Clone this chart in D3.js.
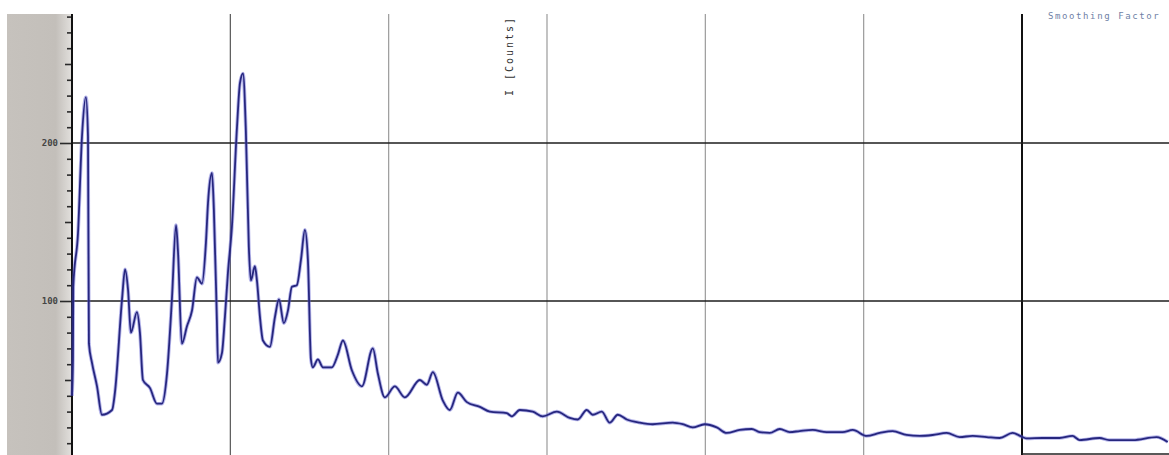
<!DOCTYPE html>
<html>
<head>
<meta charset="utf-8">
<script src="https://cdn.jsdelivr.net/npm/d3@7"></script>
<style>
  html, body { margin: 0; padding: 0; background: #ffffff; }
  svg { display: block; }
</style>
</head>
<body>
<svg id="chart" width="1169" height="455"></svg>
<script>
// ---- data ----
const twoTheta = [
  10.00, 10.06, 10.08, 10.38, 10.63, 10.88, 11.01, 11.07, 11.26, 11.58, 11.89,
  12.53, 12.71, 13.16, 13.35, 13.54, 13.72, 14.10, 14.29, 14.48, 14.92, 15.37,
  15.68, 16.00, 16.31, 16.57, 16.69, 16.94, 17.26, 17.58, 17.89, 18.21, 18.46,
  18.59, 18.84, 18.96, 19.15, 19.22, 19.47, 19.66, 19.85, 20.10, 20.42, 20.61,
  20.80, 20.98, 21.17, 21.30, 21.55, 21.68, 21.87, 22.06, 22.50, 22.82, 23.07,
  23.38, 23.64, 23.89, 24.20, 24.46, 24.71, 24.90, 25.09, 25.21, 25.53, 25.85,
  26.41, 26.79, 27.11, 27.68, 28.31, 29.00, 29.32, 29.76, 30.39, 31.02, 31.97,
  32.41, 32.79, 33.42, 33.86, 34.37, 34.94, 35.76, 36.39, 37.46, 37.78, 38.28,
  39.10, 39.73, 40.62, 41.44, 41.94, 42.51, 42.89, 43.46, 43.96, 44.47, 45.04,
  45.86, 46.68, 47.94, 48.57, 49.20, 49.96, 50.72, 51.35, 52.17, 52.93, 53.43,
  54.07, 54.70, 55.33, 55.96, 56.78, 57.66, 58.67, 59.31, 60.19, 61.01, 61.83,
  62.71, 63.54, 64.36, 65.24, 66.06, 66.88, 67.77, 68.59, 69.41, 70.00, 70.29,
  71.30, 72.37, 73.19, 73.64, 74.90, 75.50, 77.00, 78.50, 79.20
];
const counts = [
  40, 63, 109, 143, 204, 229, 204, 73, 61, 46, 28,
  31, 42, 101, 120, 107, 80, 93, 80, 50, 45, 35,
  35, 54, 101, 148, 132, 73, 84, 94, 115, 111, 137,
  162, 181, 158, 88, 61, 67, 90, 118, 147, 210, 238,
  244, 208, 134, 113, 122, 113, 90, 75, 71, 90, 101,
  86, 94, 109, 110, 126, 145, 126, 63, 58, 63, 58,
  58, 66, 75, 56, 46, 70, 54, 39, 46, 39, 50,
  47, 55, 37, 31, 42, 36, 33, 30, 29, 27, 31,
  30, 27, 30, 26, 25, 31, 28, 30, 23, 28, 25,
  23, 22, 23, 22, 20, 22, 20, 16.5, 18.4, 19, 17,
  16.5, 19, 17, 17.7, 18.4, 17, 17, 18.4, 14.6, 16.5, 17.7,
  15.2, 14.6, 15.2, 16.5, 13.9, 14.6, 13.9, 13.3, 16.5, 14, 13,
  13.3, 13.3, 14.6, 12, 13.3, 12, 12, 13.9, 10.8
];
const yTickLabels = [100, 200];
const xGridValues = [20, 30, 40, 50, 60, 70];
const yGridValues = [100, 200];
const yAxisTitle = "I [Counts]";
const cornerNote = "Smoothing Factor";

// ---- layout ----
const W = 1169, H = 455;
const plotLeft = 72, plotTop = 14, plotBottom = 455;
const svg = d3.select("#chart");

const x = d3.scaleLinear().domain([10, 70]).range([plotLeft, 1022]);
const y = d3.scaleLinear().domain([0, 200]).range([459, 143]);

// background pieces
svg.append("rect").attr("x", 0).attr("y", 0).attr("width", W).attr("height", H).attr("fill", "#ffffff");
const grad = svg.append("defs").append("linearGradient").attr("id", "gband")
  .attr("x1", "0").attr("x2", "1").attr("y1", "0").attr("y2", "0");
grad.append("stop").attr("offset", "0").attr("stop-color", "#c6c2bd");
grad.append("stop").attr("offset", "0.75").attr("stop-color", "#c3bfba");
grad.append("stop").attr("offset", "1").attr("stop-color", "#e2e0dd");
svg.append("rect").attr("x", 7).attr("y", plotTop).attr("width", plotLeft - 7).attr("height", H - plotTop)
  .attr("fill", "url(#gband)");

// vertical grid lines
svg.append("g").selectAll("line").data(xGridValues).join("line")
  .attr("x1", d => x(d)).attr("x2", d => x(d))
  .attr("y1", plotTop).attr("y2", plotBottom)
  .attr("stroke", d => d === 70 ? "#111111" : (d === 20 ? "#555555" : "#9a9a9a"))
  .attr("stroke-width", d => d === 70 ? 2 : 1.2);

// horizontal grid lines
svg.append("g").selectAll("line").data(yGridValues).join("line")
  .attr("x1", plotLeft).attr("x2", W)
  .attr("y1", d => y(d)).attr("y2", d => y(d))
  .attr("stroke", "#1e1e1e").attr("stroke-width", 1.6);

// y axis with ticks
const minorTicks = d3.range(10, 290, 10).filter(v => y(v) >= plotTop + 2);
const axisG = svg.append("g").attr("transform", `translate(${plotLeft},0)`);
axisG.call(d3.axisLeft(y).tickValues(minorTicks).tickSize(5).tickFormat(""));
axisG.select(".domain").remove();
axisG.selectAll(".tick line")
  .attr("x2", d => (d % 100 === 0) ? -12 : (d % 50 === 0 ? -7 : -5))
  .attr("stroke", "#2a2a2a").attr("stroke-width", 1.6);
axisG.append("line").attr("x1", 0).attr("x2", 0).attr("y1", plotTop).attr("y2", plotBottom)
  .attr("stroke", "#111").attr("stroke-width", 2);

// tick labels
svg.append("g").selectAll("text").data(yTickLabels).join("text")
  .attr("x", plotLeft - 14).attr("y", d => y(d) + 3)
  .attr("text-anchor", "end")
  .attr("font-family", "DejaVu Sans Mono, monospace")
  .attr("font-size", 9).attr("font-weight", "bold")
  .attr("fill", "#454545")
  .text(d => d);

// bottom axis line (only the right portion is in frame in the photo)
svg.append("line").attr("x1", 1022).attr("x2", W).attr("y1", 454).attr("y2", 454)
  .attr("stroke", "#222").attr("stroke-width", 1.5);

// data line
const pts = twoTheta.map((t, i) => [t, counts[i]]);
const line = d3.line().x(d => x(d[0])).y(d => y(d[1])).curve(d3.curveMonotoneX);
svg.append("path").attr("d", line(pts)).attr("fill", "none")
  .attr("stroke", "#5a5ad0").attr("stroke-opacity", 0.45).attr("stroke-width", 3.6)
  .attr("stroke-linejoin", "round");
svg.append("path").attr("d", line(pts)).attr("fill", "none")
  .attr("stroke", "#26267e").attr("stroke-width", 1.8)
  .attr("stroke-linejoin", "round");

// y-axis title (vertical text in the middle top)
svg.append("text")
  .attr("transform", "translate(513,56) rotate(-90)")
  .attr("text-anchor", "middle")
  .attr("font-family", "DejaVu Sans Mono, monospace")
  .attr("font-size", 10)
  .attr("letter-spacing", 2)
  .attr("fill", "#333")
  .text(yAxisTitle);

// corner note
svg.append("text")
  .attr("x", 1048).attr("y", 19)
  .attr("font-family", "DejaVu Sans Mono, monospace")
  .attr("font-size", 9)
  .attr("letter-spacing", 1.6)
  .attr("fill", "#6f7fa6")
  .text(cornerNote);
</script>
</body>
</html>
